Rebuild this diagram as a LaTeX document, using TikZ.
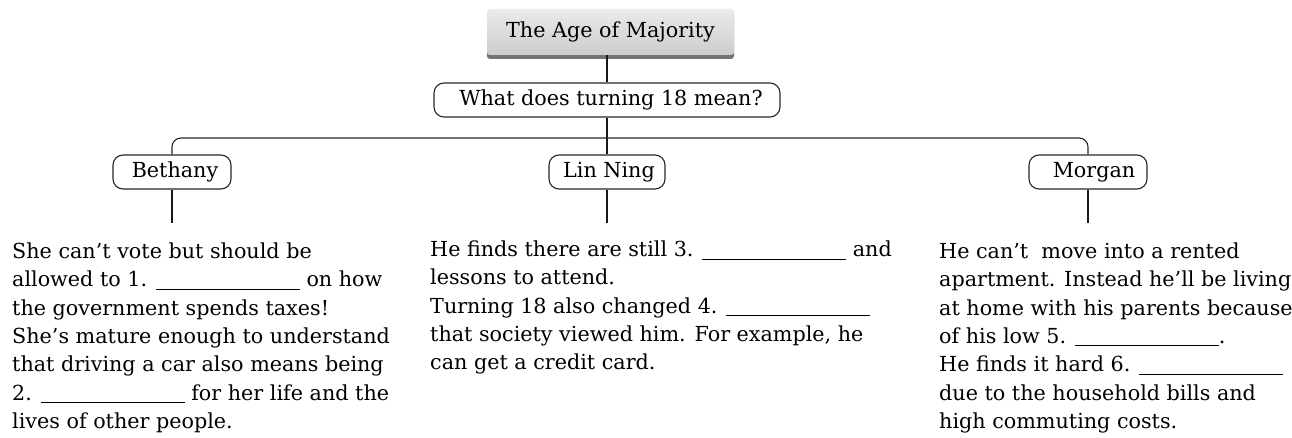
\documentclass[tikz,border=0pt]{standalone}
\usepackage{fontspec}
\setmainfont{DejaVu Serif}
\newcommand\blankline{\rule[-3pt]{144pt}{1pt}}
\tikzset{
  base/.style={font=\fontsize{20.7}{28.3}\selectfont},
  pill/.style={base, draw=black!85, line width=1.1pt, rounded corners=10pt,
    minimum height=34pt, inner sep=0pt},
  titlebox/.style={base, rounded corners=3pt, top color=black!8, bottom color=black!20,
    minimum width=247pt, minimum height=46pt, inner sep=0pt},
  conn/.style={draw=black!90, line width=1.6pt},
  bus/.style={draw=black!85, line width=1.1pt, rounded corners=9pt},
  txt/.style={base, align=left, inner sep=0pt, anchor=north west},
}
\begin{document}
\begin{tikzpicture}[x=1pt, y=-1pt]
\useasboundingbox (0,0) rectangle (1292,438);
% title with shadow
\fill[black!55, rounded corners=3pt] (487,14) rectangle (734,59);
\node[titlebox] (title) at (610.5,32) {The Age of Majority};
\node[pill, minimum width=346pt] (q) at (607,100) {\hspace{8pt}What does turning 18 mean?};
\node[pill, minimum width=118pt] (beth) at (172,172) {\hspace{6pt}Bethany};
\node[pill, minimum width=116pt] (lin) at (607,172) {\hspace{4pt}Lin Ning};
\node[pill, minimum width=118pt] (morg) at (1088,172) {\hspace{12pt}Morgan};
\coordinate (hub) at (607,138);
\coordinate (bE) at (172,223);
\coordinate (lE) at (607,223);
\coordinate (mE) at (1088,223);
\draw[conn] (title.south -| q.north) -- (q.north);
\draw[conn] (q.south) -- (lin.north);
\draw[bus] (beth.north) |- (hub) -| (morg.north);
\draw[conn] (beth.south) -- (bE);
\draw[conn] (lin.south) -- (lE);
\draw[conn] (morg.south) -- (mE);
% texts
\node[txt] (tb) at (12,238.5) {\strut She can’t vote but should be\\
allowed to 1. \blankline{} on how\\
the government spends taxes!\\
She’s mature enough to understand\\
that driving a car also means being\\
2. \blankline{} for her life and the\\
lives of other people.};
\node[txt] (tl) at (430,236.5) {\strut He finds there are still 3. \blankline{} and\\
lessons to attend.\\
Turning 18 also changed 4. \blankline\\
that society viewed him. For example, he\\
can get a credit card.};
\node[txt] (tm) at (939,238.5) {\strut He can’t~ move into a rented\\
apartment. Instead he’ll be living\\
at home with his parents because\\
of his low 5. \blankline.\\
He finds it hard 6. \blankline\\
due to the household bills and\\
high commuting costs.};
\end{tikzpicture}
\end{document}
